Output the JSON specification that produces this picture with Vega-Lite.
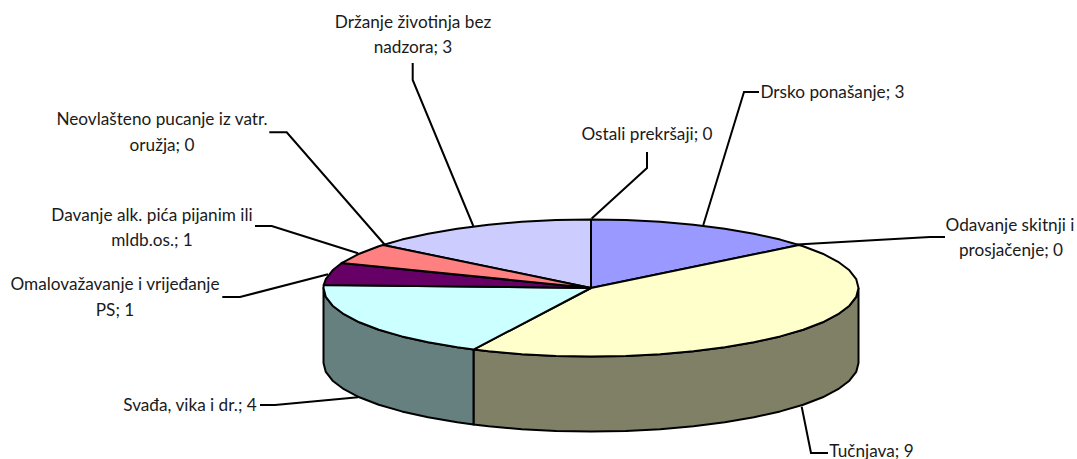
{"$schema":"https://vega.github.io/schema/vega-lite/v6.json","width":1077,"height":459,"padding":0,"autosize":{"type":"none"},"background":"white","config":{"view":{"stroke":null}},
"datasets":{
"walls":[
{"part":"Tučnjava bok","i":0,"px":858.5,"py":288},{"part":"Tučnjava bok","i":1,"px":856.2,"py":296.9},{"part":"Tučnjava bok","i":2,"px":849.4,"py":305.7},{"part":"Tučnjava bok","i":3,"px":838.1,"py":314.2},{"part":"Tučnjava bok","i":4,"px":822.7,"py":322.3},{"part":"Tučnjava bok","i":5,"px":803.2,"py":329.7},{"part":"Tučnjava bok","i":6,"px":780.2,"py":336.4},{"part":"Tučnjava bok","i":7,"px":753.9,"py":342.3},{"part":"Tučnjava bok","i":8,"px":724.8,"py":347.3},{"part":"Tučnjava bok","i":9,"px":693.4,"py":351.3},{"part":"Tučnjava bok","i":10,"px":660.2,"py":354.2},{"part":"Tučnjava bok","i":11,"px":625.9,"py":355.9},{"part":"Tučnjava bok","i":12,"px":591,"py":356.5},{"part":"Tučnjava bok","i":13,"px":556.1,"py":355.9},{"part":"Tučnjava bok","i":14,"px":521.8,"py":354.2},{"part":"Tučnjava bok","i":15,"px":488.6,"py":351.3},{"part":"Tučnjava bok","i":16,"px":473.5,"py":349.6},{"part":"Tučnjava bok","i":17,"px":473.5,"py":424.6},{"part":"Tučnjava bok","i":18,"px":488.6,"py":426.3},{"part":"Tučnjava bok","i":19,"px":521.8,"py":429.2},{"part":"Tučnjava bok","i":20,"px":556.1,"py":430.9},{"part":"Tučnjava bok","i":21,"px":591,"py":431.5},{"part":"Tučnjava bok","i":22,"px":625.9,"py":430.9},{"part":"Tučnjava bok","i":23,"px":660.2,"py":429.2},{"part":"Tučnjava bok","i":24,"px":693.4,"py":426.3},{"part":"Tučnjava bok","i":25,"px":724.8,"py":422.3},{"part":"Tučnjava bok","i":26,"px":753.9,"py":417.3},{"part":"Tučnjava bok","i":27,"px":780.2,"py":411.4},{"part":"Tučnjava bok","i":28,"px":803.2,"py":404.7},{"part":"Tučnjava bok","i":29,"px":822.7,"py":397.3},{"part":"Tučnjava bok","i":30,"px":838.1,"py":389.2},{"part":"Tučnjava bok","i":31,"px":849.4,"py":380.7},{"part":"Tučnjava bok","i":32,"px":856.2,"py":371.9},{"part":"Tučnjava bok","i":33,"px":858.5,"py":363},{"part":"Tučnjava bok","i":34,"px":858.5,"py":288},
{"part":"Svađa bok","i":0,"px":473.5,"py":349.6},{"part":"Svađa bok","i":1,"px":457.2,"py":347.3},{"part":"Svađa bok","i":2,"px":428.1,"py":342.3},{"part":"Svađa bok","i":3,"px":401.8,"py":336.4},{"part":"Svađa bok","i":4,"px":378.8,"py":329.7},{"part":"Svađa bok","i":5,"px":359.3,"py":322.3},{"part":"Svađa bok","i":6,"px":343.9,"py":314.2},{"part":"Svađa bok","i":7,"px":332.6,"py":305.7},{"part":"Svađa bok","i":8,"px":325.8,"py":296.9},{"part":"Svađa bok","i":9,"px":323.5,"py":288},{"part":"Svađa bok","i":10,"px":323.5,"py":363},{"part":"Svađa bok","i":11,"px":325.8,"py":371.9},{"part":"Svađa bok","i":12,"px":332.6,"py":380.7},{"part":"Svađa bok","i":13,"px":343.9,"py":389.2},{"part":"Svađa bok","i":14,"px":359.3,"py":397.3},{"part":"Svađa bok","i":15,"px":378.8,"py":404.7},{"part":"Svađa bok","i":16,"px":401.8,"py":411.4},{"part":"Svađa bok","i":17,"px":428.1,"py":417.3},{"part":"Svađa bok","i":18,"px":457.2,"py":422.3},{"part":"Svađa bok","i":19,"px":473.5,"py":424.6},{"part":"Svađa bok","i":20,"px":473.5,"py":349.6}
],
"top":[
{"part":"Držanje životinja","i":0,"px":591,"py":288},{"part":"Držanje životinja","i":1,"px":383,"py":245},{"part":"Držanje životinja","i":2,"px":401.8,"py":239.6},{"part":"Držanje životinja","i":3,"px":428.1,"py":233.7},{"part":"Držanje životinja","i":4,"px":457.2,"py":228.7},{"part":"Držanje životinja","i":5,"px":488.6,"py":224.7},{"part":"Držanje životinja","i":6,"px":521.8,"py":221.8},{"part":"Držanje životinja","i":7,"px":556.1,"py":220.1},{"part":"Držanje životinja","i":8,"px":591,"py":219.5},{"part":"Držanje životinja","i":9,"px":591,"py":288},
{"part":"Drsko ponašanje","i":0,"px":591,"py":288},{"part":"Drsko ponašanje","i":1,"px":591,"py":219.5},{"part":"Drsko ponašanje","i":2,"px":625.9,"py":220.1},{"part":"Drsko ponašanje","i":3,"px":660.2,"py":221.8},{"part":"Drsko ponašanje","i":4,"px":693.4,"py":224.7},{"part":"Drsko ponašanje","i":5,"px":724.8,"py":228.7},{"part":"Drsko ponašanje","i":6,"px":753.9,"py":233.7},{"part":"Drsko ponašanje","i":7,"px":780.2,"py":239.6},{"part":"Drsko ponašanje","i":8,"px":799,"py":245},{"part":"Drsko ponašanje","i":9,"px":591,"py":288},
{"part":"Tučnjava","i":0,"px":591,"py":288},{"part":"Tučnjava","i":1,"px":799,"py":245},{"part":"Tučnjava","i":2,"px":803.2,"py":246.3},{"part":"Tučnjava","i":3,"px":822.7,"py":253.7},{"part":"Tučnjava","i":4,"px":838.1,"py":261.8},{"part":"Tučnjava","i":5,"px":849.4,"py":270.3},{"part":"Tučnjava","i":6,"px":856.2,"py":279.1},{"part":"Tučnjava","i":7,"px":858.5,"py":288},{"part":"Tučnjava","i":8,"px":856.2,"py":296.9},{"part":"Tučnjava","i":9,"px":849.4,"py":305.7},{"part":"Tučnjava","i":10,"px":838.1,"py":314.2},{"part":"Tučnjava","i":11,"px":822.7,"py":322.3},{"part":"Tučnjava","i":12,"px":803.2,"py":329.7},{"part":"Tučnjava","i":13,"px":780.2,"py":336.4},{"part":"Tučnjava","i":14,"px":753.9,"py":342.3},{"part":"Tučnjava","i":15,"px":724.8,"py":347.3},{"part":"Tučnjava","i":16,"px":693.4,"py":351.3},{"part":"Tučnjava","i":17,"px":660.2,"py":354.2},{"part":"Tučnjava","i":18,"px":625.9,"py":355.9},{"part":"Tučnjava","i":19,"px":591,"py":356.5},{"part":"Tučnjava","i":20,"px":556.1,"py":355.9},{"part":"Tučnjava","i":21,"px":521.8,"py":354.2},{"part":"Tučnjava","i":22,"px":488.6,"py":351.3},{"part":"Tučnjava","i":23,"px":473.5,"py":349.6},{"part":"Tučnjava","i":24,"px":591,"py":288},
{"part":"Svađa","i":0,"px":591,"py":288},{"part":"Svađa","i":1,"px":473.5,"py":349.6},{"part":"Svađa","i":2,"px":457.2,"py":347.3},{"part":"Svađa","i":3,"px":428.1,"py":342.3},{"part":"Svađa","i":4,"px":401.8,"py":336.4},{"part":"Svađa","i":5,"px":378.8,"py":329.7},{"part":"Svađa","i":6,"px":359.3,"py":322.3},{"part":"Svađa","i":7,"px":343.9,"py":314.2},{"part":"Svađa","i":8,"px":332.6,"py":305.7},{"part":"Svađa","i":9,"px":325.8,"py":296.9},{"part":"Svađa","i":10,"px":323.5,"py":288},{"part":"Svađa","i":11,"px":323.7,"py":285},{"part":"Svađa","i":12,"px":591,"py":288},
{"part":"Omalovažavanje","i":0,"px":591,"py":288},{"part":"Omalovažavanje","i":1,"px":323.7,"py":285},{"part":"Omalovažavanje","i":2,"px":325.8,"py":279.1},{"part":"Omalovažavanje","i":3,"px":332.6,"py":270.3},{"part":"Omalovažavanje","i":4,"px":341.7,"py":263},{"part":"Omalovažavanje","i":5,"px":591,"py":288},
{"part":"Davanje alk. pića","i":0,"px":591,"py":288},{"part":"Davanje alk. pića","i":1,"px":341.7,"py":263},{"part":"Davanje alk. pića","i":2,"px":343.9,"py":261.8},{"part":"Davanje alk. pića","i":3,"px":359.3,"py":253.7},{"part":"Davanje alk. pića","i":4,"px":378.8,"py":246.3},{"part":"Davanje alk. pića","i":5,"px":383,"py":245},{"part":"Davanje alk. pića","i":6,"px":591,"py":288}
],
"leaders":[
{"label":"Držanje","i":0,"px":412.7,"py":63},{"label":"Držanje","i":1,"px":412.7,"py":80},{"label":"Držanje","i":2,"px":473.3,"py":226},
{"label":"Ostali","i":0,"px":647,"py":152},{"label":"Ostali","i":1,"px":647,"py":168},{"label":"Ostali","i":2,"px":591.7,"py":218.5},
{"label":"Drsko","i":0,"px":759,"py":92},{"label":"Drsko","i":1,"px":744,"py":92},{"label":"Drsko","i":2,"px":703.3,"py":225},
{"label":"Odavanje","i":0,"px":945,"py":237},{"label":"Odavanje","i":1,"px":930,"py":237},{"label":"Odavanje","i":2,"px":797,"py":244.5},
{"label":"Neovlašteno","i":0,"px":269.3,"py":132.3},{"label":"Neovlašteno","i":1,"px":286.7,"py":132.3},{"label":"Neovlašteno","i":2,"px":385,"py":245},
{"label":"Davanje","i":0,"px":255,"py":226},{"label":"Davanje","i":1,"px":271.7,"py":226},{"label":"Davanje","i":2,"px":358,"py":253.3},
{"label":"Omalovažavanje","i":0,"px":222.3,"py":297},{"label":"Omalovažavanje","i":1,"px":240,"py":297},{"label":"Omalovažavanje","i":2,"px":328,"py":274.3},
{"label":"Svađa","i":0,"px":260,"py":405},{"label":"Svađa","i":1,"px":275,"py":405},{"label":"Svađa","i":2,"px":358,"py":397.3},
{"label":"Tučnjava","i":0,"px":801.7,"py":406.7},{"label":"Tučnjava","i":1,"px":811,"py":453},{"label":"Tučnjava","i":2,"px":828,"py":453}
],
"labels":[
{"category":"Držanje životinja bez nadzora","value":3,"text":"Držanje životinja bez","px":413,"py":22.5},{"category":"Držanje životinja bez nadzora","value":3,"text":"nadzora; 3","px":413,"py":48},
{"category":"Drsko ponašanje","value":3,"text":"Drsko ponašanje; 3","px":832.5,"py":93},
{"category":"Ostali prekršaji","value":0,"text":"Ostali prekršaji; 0","px":647,"py":135},
{"category":"Neovlašteno pucanje iz vatr. oružja","value":0,"text":"Neovlašteno pucanje iz vatr.","px":162,"py":120},{"category":"Neovlašteno pucanje iz vatr. oružja","value":0,"text":"oružja; 0","px":162,"py":146},
{"category":"Davanje alk. pića pijanim ili mldb.os.","value":1,"text":"Davanje alk. pića pijanim ili","px":152,"py":216},{"category":"Davanje alk. pića pijanim ili mldb.os.","value":1,"text":"mldb.os.; 1","px":152,"py":241},
{"category":"Omalovažavanje i vrijeđanje PS","value":1,"text":"Omalovažavanje i vrijeđanje","px":115,"py":285},{"category":"Omalovažavanje i vrijeđanje PS","value":1,"text":"PS; 1","px":115,"py":311},
{"category":"Odavanje skitnji i prosjačenje","value":0,"text":"Odavanje skitnji i","px":1010,"py":226},{"category":"Odavanje skitnji i prosjačenje","value":0,"text":"prosjačenje; 0","px":1011,"py":251},
{"category":"Svađa, vika i dr.","value":4,"text":"Svađa, vika i dr.; 4","px":190,"py":406},
{"category":"Tučnjava","value":9,"text":"Tučnjava; 9","px":871.5,"py":451.5}
]},
"encoding":{
"x":{"field":"px","type":"quantitative","axis":null,"scale":{"domain":[0,1077],"nice":false,"zero":false}},
"y":{"field":"py","type":"quantitative","axis":null,"scale":{"domain":[459,0],"nice":false,"zero":false}}
},
"layer":[
{"data":{"name":"leaders"},"mark":{"type":"line","stroke":"black","strokeWidth":2,"strokeJoin":"miter"},"encoding":{"detail":{"field":"label"},"order":{"field":"i","type":"quantitative"}}},
{"data":{"name":"walls"},"mark":{"type":"line","stroke":"black","strokeWidth":2,"strokeJoin":"round"},"encoding":{"fill":{"field":"part","type":"nominal","legend":null,"scale":{"domain":["Tučnjava bok","Svađa bok"],"range":["#808066","#668080"]}},"order":{"field":"i","type":"quantitative"}}},
{"data":{"name":"top"},"mark":{"type":"line","stroke":"black","strokeWidth":2,"strokeJoin":"round"},"encoding":{"fill":{"field":"part","type":"nominal","legend":null,"scale":{"domain":["Držanje životinja","Drsko ponašanje","Tučnjava","Svađa","Omalovažavanje","Davanje alk. pića"],"range":["#CCCCFF","#9999FF","#FFFFCC","#CCFFFF","#660066","#FF8080"]}},"order":{"field":"i","type":"quantitative"}}},
{"data":{"name":"labels"},"mark":{"type":"text","font":"Lato","fontSize":17.2,"fill":"#1a1a1a","align":"center","baseline":"middle"},"encoding":{"text":{"field":"text","type":"nominal"}}}
],
"resolve":{"scale":{"fill":"independent"}}
}
